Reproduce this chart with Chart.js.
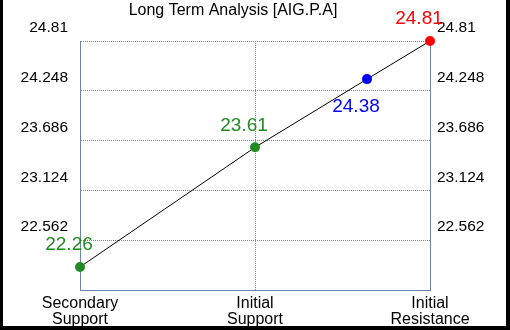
<!DOCTYPE html>
<html>
<head>
<meta charset="utf-8">
<script src="https://cdn.jsdelivr.net/npm/chart.js@4/dist/chart.umd.min.js"></script>
<style>
  html, body { margin: 0; padding: 0; background: #000; width: 510px; height: 330px; overflow: hidden; }
  #wrap { position: absolute; left: 3px; top: 0; width: 503px; height: 326px; background: #fff; }
  canvas { display: block; }
</style>
</head>
<body>
<div id="wrap"><canvas id="c" width="503" height="326"></canvas></div>
<script>
// ---- data ----
const chartTitle = "Long Term Analysis [AIG.P.A]";
const categories = [["Secondary", "Support"], ["Initial", "Support"], ["Initial", "Resistance"]];
const categoryPositions = [0, 1, 2];
const pointValues = [22.26, 23.61, 24.38, 24.81];
const pointXPositions = [0, 1, 1.64, 2];
const pointLabels = ["22.26", "23.61", "24.38", "24.81"];
const pointColors = ["#228b22", "#228b22", "#0000ff", "#ff0000"];
const labelBelow = [false, false, true, false];
const yTickValues = [22.0, 22.562, 23.124, 23.686, 24.248, 24.81];
const yTickLabels = ["", "22.562", "23.124", "23.686", "24.248", "24.81"];

const FONT = "'Liberation Sans', Arial, sans-serif";
const GRID = "rgb(108,132,176)";

const points = pointValues.map((v, i) => ({ x: pointXPositions[i], y: v }));

const valueLabelPlugin = {
  id: 'valueLabels',
  afterDatasetsDraw(chart) {
    const ctx = chart.ctx;
    const meta = chart.getDatasetMeta(0);
    ctx.save();
    ctx.font = "19px " + FONT;
    ctx.textAlign = 'center';
    ctx.textBaseline = 'middle';
    meta.data.forEach((el, i) => {
      ctx.fillStyle = pointColors[i];
      const dy = labelBelow[i] ? 28 : -22;
      ctx.fillText(pointLabels[i], el.x - 11, el.y + dy);
    });
    ctx.restore();
  }
};

const titlePlugin = {
  id: 'topTitle',
  afterDraw(chart) {
    const ctx = chart.ctx;
    ctx.save();
    ctx.font = "16px " + FONT;
    ctx.fillStyle = '#000';
    ctx.textAlign = 'center';
    ctx.textBaseline = 'alphabetic';
    ctx.fillText(chartTitle, 230, 15);
    ctx.restore();
  }
};

function setYTicks(scale) {
  scale.ticks = yTickValues.map(v => ({ value: v }));
}
function yLabel(value) {
  const i = yTickValues.indexOf(value);
  return i >= 0 ? yTickLabels[i] : '';
}

new Chart(document.getElementById('c'), {
  type: 'scatter',
  data: {
    datasets: [{
      data: points,
      showLine: true,
      borderColor: '#000',
      borderWidth: 1,
      pointRadius: 5,
      pointHoverRadius: 5,
      pointBorderWidth: 0,
      pointBackgroundColor: pointColors,
      pointBorderColor: pointColors,
      clip: false,
      tension: 0
    }]
  },
  options: {
    responsive: false,
    animation: false,
    events: [],
    layout: { padding: { top: 41, left: 0, right: 0, bottom: 0 } },
    plugins: { legend: { display: false }, tooltip: { enabled: false }, title: { display: false } },
    scales: {
      x: {
        type: 'linear',
        min: 0, max: 2,
        afterBuildTicks(scale) { scale.ticks = categoryPositions.map(v => ({ value: v })); },
        afterFit(scale) { scale.height = 36; },
        ticks: {
          autoSkip: false,
          maxRotation: 0,
          padding: 6,
          color: '#000',
          font: { family: FONT, size: 16, lineHeight: 1.0 },
          callback: (v) => categories[categoryPositions.indexOf(v)] || ''
        },
        grid: {
          drawTicks: false,
          tickLength: 0,
          color: (ctx) => (ctx.tick && ctx.tick.value === 1) ? GRID : 'rgba(0,0,0,0)',
          lineWidth: 1
        },
        border: { display: true, color: GRID, width: 1, dash: [1, 1] }
      },
      y: {
        type: 'linear',
        position: 'left',
        min: 22.0, max: 24.81,
        afterBuildTicks: setYTicks,
        afterFit(scale) { scale.width = 77; },
        ticks: {
          padding: 12,
          labelOffset: -13,
          color: '#000',
          font: { family: FONT, size: 15.5 },
          callback: yLabel
        },
        grid: {
          drawTicks: false,
          tickLength: 0,
          color: (ctx) => (ctx.tick && ctx.tick.value === 22.0) ? 'rgba(0,0,0,0)' : GRID,
          lineWidth: 1
        },
        border: { display: true, color: GRID, width: 1, dash: [1, 1] }
      },
      y2: {
        type: 'linear',
        position: 'right',
        min: 22.0, max: 24.81,
        afterBuildTicks: setYTicks,
        afterFit(scale) { scale.width = 76; },
        ticks: {
          padding: 7,
          labelOffset: -13,
          color: '#000',
          font: { family: FONT, size: 15.5 },
          callback: yLabel
        },
        grid: { display: false, drawTicks: false, tickLength: 0 },
        border: { display: true, color: GRID, width: 1 }
      }
    }
  },
  plugins: [valueLabelPlugin, titlePlugin]
});
</script>
</body>
</html>
